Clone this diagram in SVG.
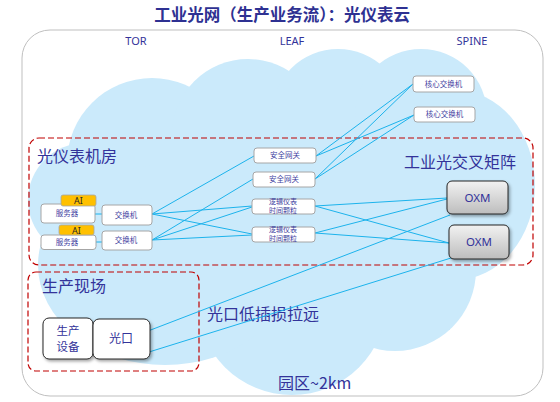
<svg xmlns="http://www.w3.org/2000/svg" width="560" height="402" viewBox="0 0 560 402">
<defs>
<style>
.t{font-family:"Noto Sans CJK SC","Noto Sans",sans-serif;fill:#33339a}
.title{font-size:16.5px;font-weight:bold;fill:#2e3192}
.big{font-size:16px}
.hdr{font-family:"Noto Sans","Noto Sans CJK SC",sans-serif;font-size:11px;fill:#33339a}
.sm{font-size:7.5px;fill:#3f3f9f}
.sm2{font-size:7px;fill:#3f3f9f}
.mid{font-size:12px}
.box{fill:#ffffff;stroke:#a6a6a6;stroke-width:1}
.ai{fill:#ffc000;stroke:#a6a6a6;stroke-width:0.8}
.oxm{fill:url(#g);stroke:#262626;stroke-width:1}
.dev{fill:#ffffff;stroke:#262626;stroke-width:1}
.red{fill:none;stroke:#c00000;stroke-width:1.2;stroke-dasharray:6 3}
.ln{stroke:#1cb3ec;stroke-width:1;fill:none}
.cl{fill:#cbeafb}
</style>
<linearGradient id="g" x1="0" y1="0" x2="0" y2="1">
<stop offset="0" stop-color="#f2f2f2"/>
<stop offset="1" stop-color="#bdbdbd"/>
</linearGradient>
<filter id="sh" x="-20%" y="-20%" width="150%" height="150%">
<feDropShadow dx="1.5" dy="2" stdDeviation="1.5" flood-color="#000" flood-opacity="0.35"/>
</filter>
</defs>

<text class="t title" x="282" y="21" text-anchor="middle">工业光网（生产业务流）：光仪表云</text>

<rect x="22" y="30" width="521" height="366" rx="28" fill="#ffffff" stroke="#bfbfbf" stroke-width="1"/>

<g id="cloud" class="cl">
<circle cx="152" cy="163" r="85"/>
<circle cx="248" cy="135" r="76"/>
<circle cx="338" cy="115" r="66"/>
<circle cx="421" cy="115" r="66"/>
<ellipse cx="455" cy="185" rx="80" ry="95"/>
<circle cx="395" cy="270" r="81"/>
<circle cx="292" cy="300" r="95"/>
<ellipse cx="165" cy="265" rx="127" ry="100"/>
<circle cx="85" cy="200" r="57"/>
<rect x="150" y="130" width="300" height="200"/>
</g>

<text class="hdr" x="136" y="45" text-anchor="middle">TOR</text>
<text class="hdr" x="292" y="45" text-anchor="middle">LEAF</text>
<text class="hdr" x="472" y="45" text-anchor="middle">SPINE</text>

<g id="zone-room">
<rect class="red" x="29" y="138" width="504" height="127" rx="10"/>
<text class="t big" x="37" y="162">光仪表机房</text>
<text class="t big" x="404" y="168">工业光交叉矩阵</text>
</g>
<g id="zone-field">
<rect class="red" x="28" y="272" width="171" height="99" rx="8"/>
<text class="t big" x="42" y="292">生产现场</text>
</g>
<text class="t big" x="207" y="320">光口低插损拉远</text>
<text class="t big" x="278" y="389">园区~2km</text>

<g id="connectors" class="ln">
<line x1="95" y1="214" x2="102" y2="214"/>
<line x1="96" y1="242" x2="102" y2="242"/>
<line x1="152" y1="214" x2="254" y2="156"/>
<line x1="152" y1="214" x2="252" y2="206"/>
<line x1="152" y1="214" x2="252" y2="234"/>
<line x1="152" y1="240" x2="253" y2="179"/>
<line x1="152" y1="240" x2="252" y2="207"/>
<line x1="152" y1="240" x2="252" y2="235"/>
<line x1="316" y1="156" x2="413" y2="84"/>
<line x1="316" y1="156" x2="414" y2="115"/>
<line x1="315" y1="179" x2="413" y2="84"/>
<line x1="315" y1="179" x2="414" y2="115"/>
<line x1="315" y1="206" x2="447" y2="198"/>
<line x1="315" y1="206" x2="449" y2="243"/>
<line x1="315" y1="233" x2="447" y2="199"/>
<line x1="315" y1="233" x2="449" y2="243"/>
<line x1="148" y1="331" x2="450" y2="215"/>
<line x1="149" y1="352" x2="451" y2="258"/>
</g>

<g id="core1"><rect class="box" x="413" y="76" width="61" height="16" rx="3"/><text class="t sm" x="443.5" y="86.7" text-anchor="middle">核心交换机</text></g>
<g id="core2"><rect class="box" x="414" y="107" width="61" height="15" rx="3"/><text class="t sm" x="444.5" y="117.2" text-anchor="middle">核心交换机</text></g>

<g id="gw1"><rect class="box" x="254" y="148" width="62" height="15" rx="3"/><text class="t sm" x="285" y="158.2" text-anchor="middle">安全网关</text></g>
<g id="gw2"><rect class="box" x="253" y="172" width="62" height="15" rx="3"/><text class="t sm" x="284" y="182.2" text-anchor="middle">安全网关</text></g>
<g id="logic1"><rect class="box" x="252" y="199" width="63" height="15" rx="3"/><text class="t sm2" text-anchor="middle"><tspan x="283" y="204.3">逻辑仪表</tspan><tspan x="283" y="212.8">时间颗粒</tspan></text></g>
<g id="logic2"><rect class="box" x="252" y="227" width="63" height="15" rx="3"/><text class="t sm2" text-anchor="middle"><tspan x="283" y="232.3">逻辑仪表</tspan><tspan x="283" y="240.8">时间颗粒</tspan></text></g>

<g id="server1"><rect class="box" x="41" y="204" width="54" height="19" rx="3"/><text class="t sm" x="67" y="216" text-anchor="middle">服务器</text>
<rect class="ai" x="61" y="195" width="35" height="11" rx="2"/><text x="78.5" y="204" text-anchor="middle" font-family="Noto Sans, sans-serif" font-size="9" fill="#262626">AI</text></g>
<g id="server2"><rect class="box" x="41" y="235" width="55" height="14.5" rx="3"/><text class="t sm" x="67" y="245" text-anchor="middle">服务器</text>
<rect class="ai" x="59" y="225" width="35" height="10" rx="2"/><text x="76.5" y="233.5" text-anchor="middle" font-family="Noto Sans, sans-serif" font-size="9" fill="#262626">AI</text></g>
<g id="sw1"><rect class="box" x="102" y="205" width="50" height="20" rx="3"/><text class="t sm" x="126" y="217.5" text-anchor="middle">交换机</text></g>
<g id="sw2"><rect class="box" x="102" y="231" width="50" height="19" rx="3"/><text class="t sm" x="126" y="243" text-anchor="middle">交换机</text></g>

<g id="oxm1"><rect class="oxm" x="447" y="181" width="61" height="33" rx="5" filter="url(#sh)"/><text x="477.5" y="201.5" text-anchor="middle" font-family="Noto Sans, sans-serif" font-size="11.5" fill="#33339a">OXM</text></g>
<g id="oxm2"><rect class="oxm" x="449" y="225" width="60" height="34" rx="5" filter="url(#sh)"/><text x="479" y="246" text-anchor="middle" font-family="Noto Sans, sans-serif" font-size="11.5" fill="#33339a">OXM</text></g>

<g id="device"><rect class="dev" x="43" y="318" width="50" height="41" rx="6" filter="url(#sh)"/><text class="t" font-size="11.5" text-anchor="middle"><tspan x="68" y="334.5">生产</tspan><tspan x="68" y="350.5">设备</tspan></text></g>
<g id="port"><rect class="dev" x="93" y="319" width="57" height="40" rx="6" filter="url(#sh)"/><text class="t mid" x="121" y="343" text-anchor="middle">光口</text></g>
</svg>
